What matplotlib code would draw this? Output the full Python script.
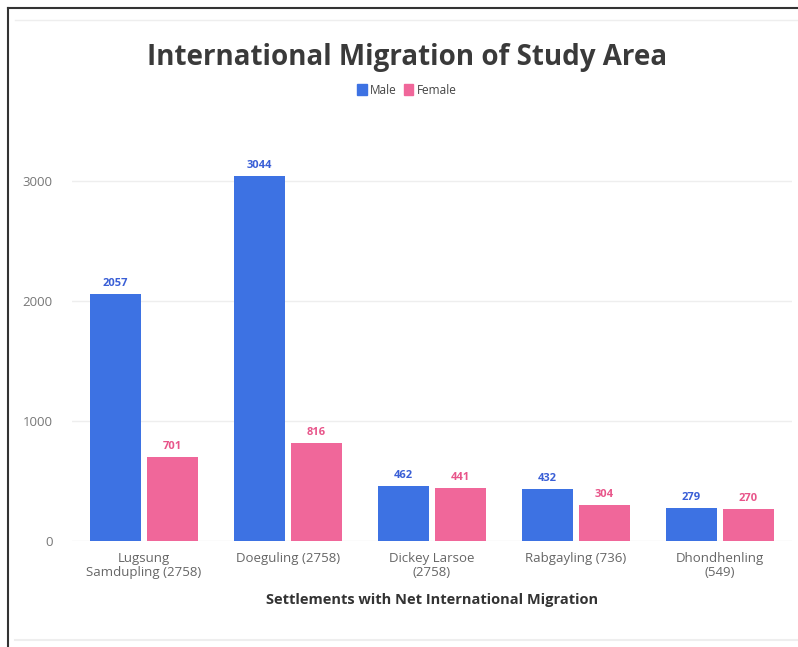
import matplotlib
matplotlib.use("Agg")
import matplotlib.pyplot as plt
from matplotlib.lines import Line2D
from matplotlib.patches import Patch
import numpy as np

categories = ["Lugsung\nSamdupling (2758)", "Doeguling (2758)", "Dickey Larsoe\n(2758)",
              "Rabgayling (736)", "Dhondhenling\n(549)"]
male = [2057, 3044, 462, 432, 279]
female = [701, 816, 441, 304, 270]
yticks = [0, 1000, 2000, 3000]

BLUE = "#3d72e3"
PINK = "#f0679a"
BLUE_TXT = "#3a5fd6"
PINK_TXT = "#e8558a"

plt.rcParams['font.family'] = ['Open Sans', 'DejaVu Sans']

W, H = 798, 647
fig = plt.figure(figsize=(W/100, H/100), dpi=100)
fig.patch.set_facecolor("white")

# frame lines
fig.add_artist(Line2D([8/W, 8/W], [0, 1 - 8/H], color="#333333", lw=1.5, transform=fig.transFigure))
fig.add_artist(Line2D([8/W, 1], [1 - 8/H, 1 - 8/H], color="#333333", lw=1.5, transform=fig.transFigure))
fig.add_artist(Line2D([15/W, 1], [1 - 20/H, 1 - 20/H], color="#eeeeee", lw=1.0, transform=fig.transFigure))
fig.add_artist(Line2D([15/W, 1], [1 - 640/H, 1 - 640/H], color="#eeeeee", lw=1.5, transform=fig.transFigure))

left, right = 72, 792
bottom, top = 541, 121
ax = fig.add_axes([left/W, 1 - bottom/H, (right-left)/W, (bottom-top)/H])
ax.set_xlim(-0.5, len(categories) - 0.5)
ax.set_ylim(0, 3500)

x = np.arange(len(categories))
bw = 0.355
gap = 0.04
mb = ax.bar(x - bw/2 - gap/2, male, bw, color=BLUE, zorder=3)
fb = ax.bar(x + bw/2 + gap/2, female, bw, color=PINK, zorder=3)

for xi, v in zip(x - bw/2 - gap/2, male):
    ax.text(xi, v + 40, str(v), ha="center", va="bottom", fontsize=8, color=BLUE_TXT, fontweight="bold")
for xi, v in zip(x + bw/2 + gap/2, female):
    ax.text(xi, v + 40, str(v), ha="center", va="bottom", fontsize=8, color=PINK_TXT, fontweight="bold")

ax.set_yticks(yticks)
ax.set_yticklabels([str(t) for t in yticks], color="#777777", fontsize=9.5)
ax.set_xticks(x)
ax.set_xticklabels(categories, color="#666666", fontsize=9.5, linespacing=1.1)
ax.tick_params(axis="both", length=0, pad=8)
ax.tick_params(axis="y", pad=14)
ax.grid(axis="y", color="#eeeeee", lw=1, zorder=0)
for s in ax.spines.values():
    s.set_visible(False)
ax.set_xlabel("Settlements with Net International Migration", fontsize=10.5, fontweight="bold",
              color="#333333", labelpad=10)

fig.text(0.51, 1 - 57/H, "International Migration of Study Area", ha="center", va="center",
         fontsize=20, fontweight="bold", color="#3a3a3a")
handles = [Patch(color=BLUE, label="Male"), Patch(color=PINK, label="Female")]
fig.legend(handles=handles, loc="center", bbox_to_anchor=(0.51, 1 - 90/H), ncol=2, frameon=False,
           fontsize=8.5, handlelength=0.8, handleheight=1.0, handletextpad=0.3, columnspacing=0.6,
           labelcolor="#444444")

fig.savefig("out.png", dpi=100, facecolor="white")
